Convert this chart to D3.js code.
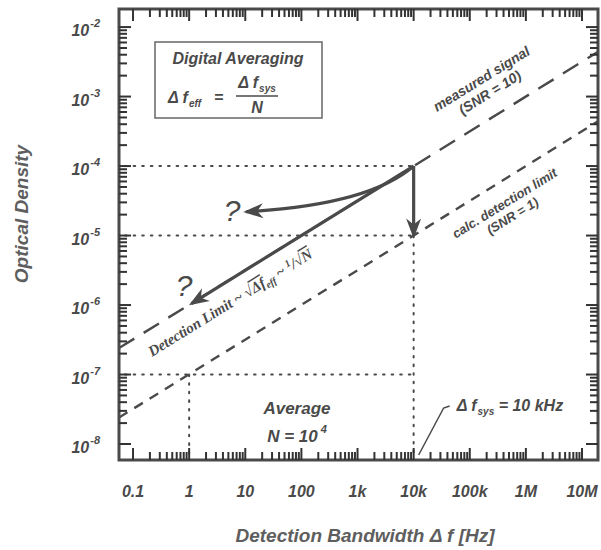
<!DOCTYPE html>
<html>
<head>
<meta charset="utf-8">
<script src="https://cdn.jsdelivr.net/npm/d3@7"></script>
<style>
  body { margin: 0; background: #fff; }
  text { font-family: "Liberation Sans", Arial, sans-serif; font-weight: bold; font-style: italic; fill: #4a4a4a; }
</style>
</head>
<body>
<script>
// decades shown on the axes
var xDecades = [-1, 0, 1, 2, 3, 4, 5, 6, 7];
var xTickLabels = ["0.1", "1", "10", "100", "1k", "10k", "100k", "1M", "10M"];
var yDecades = [-2, -3, -4, -5, -6, -7, -8];

// lines: [bandwidth Hz, optical density]
var measuredSignal = [[0.0562, 2.4e-7], [1e4, 1e-4], [1.93e7, 4.4e-3]];
var detectionLimit = [[0.0562, 2.4e-8], [1e4, 1e-5], [1.93e7, 4.4e-4]];

// dotted guide lines
var dottedH = [[1e-4, 1e4], [1e-5, 1e4], [1e-7, 1e4]];   // [OD, runs to f]
var dottedV = [[1, 1e-7], [1e4, 1e-5]];                   // [f, runs up to OD]

// arrows
var arrowStraight = [[1e4, 1e-4], [1.1, 1.05e-6]];
var arrowDown = [[1e4, 1e-4], [1e4, 1e-5]];
var arrowCurve = [[1e4, 1e-4], [1600, 2.75e-5], [10.4, 2.2e-5]];

var margin = {top: 9, right: 3, bottom: 90, left: 119},
    width = 601 - margin.left - margin.right,
    height = 550 - margin.top - margin.bottom;

var ink = "#4a4a4a";

var x = d3.scaleLog()
    .domain([Math.pow(10, -1.25), Math.pow(10, 7.285)])
    .range([0, width]);
var y = d3.scaleLog()
    .domain([Math.pow(10, -8.23), Math.pow(10, -1.74)])
    .range([height, 0]);

var svg = d3.select("body").append("svg")
    .attr("width", 601)
    .attr("height", 550);

var defs = svg.append("defs");
defs.append("clipPath").attr("id", "clip")
  .append("rect").attr("width", width).attr("height", height);
defs.append("marker")
    .attr("id", "head")
    .attr("viewBox", "-22 -9 26 18")
    .attr("refX", -3).attr("refY", 0)
    .attr("markerWidth", 26).attr("markerHeight", 18)
    .attr("markerUnits", "userSpaceOnUse")
    .attr("orient", "auto")
  .append("path")
    .attr("d", "M0,0 L-20,-7.5 L-14,0 L-20,7.5 Z")
    .attr("fill", ink);

var g = svg.append("g")
    .attr("transform", "translate(" + margin.left + "," + margin.top + ")");
var plot = g.append("g").attr("clip-path", "url(#clip)");

// tick values
var xMajor = xDecades.map(function(d) { return Math.pow(10, d); });
var yMajor = yDecades.map(function(d) { return Math.pow(10, d); });
var xMinor = [], yMinor = [];
xDecades.forEach(function(d) {
  for (var k = 2; k <= 9; k++) {
    if (k * Math.pow(10, d) < 1.9e7) xMinor.push(k * Math.pow(10, d));
  }
});
yDecades.forEach(function(d) {
  for (var k = 2; k <= 9; k++) {
    if (k * Math.pow(10, d) < 1.8e-2) yMinor.push(k * Math.pow(10, d));
  }
});

// x tick labels
g.selectAll(".xlab")
  .data(xMajor)
  .enter().append("text")
    .attr("class", "xlab")
    .attr("x", function(d) { return x(d); })
    .attr("y", height + 37)
    .attr("text-anchor", "middle")
    .attr("font-size", "16px")
    .text(function(d, i) { return xTickLabels[i]; });

// y tick labels 10^n
var ylab = g.selectAll(".ylab")
  .data(yDecades)
  .enter().append("text")
    .attr("class", "ylab")
    .attr("x", -19)
    .attr("y", function(d) { return y(Math.pow(10, d)) + 9; })
    .attr("text-anchor", "end")
    .attr("font-size", "16px");
ylab.append("tspan").text("10");
ylab.append("tspan").attr("font-size", "11px").attr("dy", -9).attr("dx", 1)
    .text(function(d) { return String(d); });

// dotted guide lines
plot.selectAll(".dh")
  .data(dottedH)
  .enter().append("line")
    .attr("x1", 6).attr("x2", function(d) { return x(d[1]); })
    .attr("y1", function(d) { return y(d[0]); })
    .attr("y2", function(d) { return y(d[0]); })
    .attr("stroke", ink).attr("stroke-width", 2)
    .attr("stroke-dasharray", "1.6,7").attr("stroke-linecap", "round");
plot.selectAll(".dv")
  .data(dottedV)
  .enter().append("line")
    .attr("x1", function(d) { return x(d[0]); })
    .attr("x2", function(d) { return x(d[0]); })
    .attr("y1", function(d) { return y(d[1]); })
    .attr("y2", height - 4)
    .attr("stroke", ink).attr("stroke-width", 2)
    .attr("stroke-dasharray", "1.6,7").attr("stroke-linecap", "round");

// dashed lines
var line = d3.line()
    .x(function(d) { return x(d[0]); })
    .y(function(d) { return y(d[1]); });

plot.append("path")
    .attr("d", line(measuredSignal))
    .attr("fill", "none").attr("stroke", ink).attr("stroke-width", 2.4)
    .attr("stroke-dasharray", "18,11");
plot.append("path")
    .attr("d", line(detectionLimit))
    .attr("fill", "none").attr("stroke", ink).attr("stroke-width", 2.4)
    .attr("stroke-dasharray", "10,8");

// arrows
plot.append("path")
    .attr("d", line(arrowStraight))
    .attr("fill", "none").attr("stroke", ink).attr("stroke-width", 3.2)
    .attr("marker-end", "url(#head)");
plot.append("path")
    .attr("d", line(arrowDown))
    .attr("fill", "none").attr("stroke", ink).attr("stroke-width", 3.2)
    .attr("marker-end", "url(#head)");
var cp = d3.path();
cp.moveTo(x(arrowCurve[0][0]), y(arrowCurve[0][1]));
cp.quadraticCurveTo(x(arrowCurve[1][0]), y(arrowCurve[1][1]), x(arrowCurve[2][0]), y(arrowCurve[2][1]));
plot.append("path")
    .attr("d", cp.toString())
    .attr("fill", "none").attr("stroke", ink).attr("stroke-width", 3.2)
    .attr("marker-end", "url(#head)");

// ---- annotations (page coordinates)
// box
svg.append("rect")
    .attr("x", 155).attr("y", 42).attr("width", 167).attr("height", 76)
    .attr("fill", "#fff").attr("stroke", "#666").attr("stroke-width", 1.5);
svg.append("text")
    .attr("x", 238).attr("y", 64).attr("text-anchor", "middle")
    .attr("font-size", "16px").text("Digital Averaging");
var f1 = svg.append("text").attr("x", 168).attr("y", 103).attr("font-size", "16px");
f1.append("tspan").text("\u0394 f");
f1.append("tspan").attr("font-size", "10px").attr("dy", 4).attr("dx", 1).text("eff");
svg.append("text").attr("x", 214).attr("y", 103).attr("font-size", "16px").text("=");
var f2 = svg.append("text").attr("x", 257).attr("y", 88).attr("text-anchor", "middle").attr("font-size", "16px");
f2.append("tspan").text("\u0394 f");
f2.append("tspan").attr("font-size", "10px").attr("dy", 4).attr("dx", 1).text("sys");
svg.append("line").attr("x1", 236).attr("x2", 278).attr("y1", 96).attr("y2", 96)
    .attr("stroke", ink).attr("stroke-width", 1.6);
svg.append("text").attr("x", 257).attr("y", 113).attr("text-anchor", "middle")
    .attr("font-size", "16px").text("N");

// line labels
var ang = -Math.atan((y(1e-5) - y(1e-4)) / 2 / (x(1e4) - x(1e3))) * 180 / Math.PI;
var ms = svg.append("g").attr("transform", "translate(484,83) rotate(" + ang + ")");
ms.append("text").attr("text-anchor", "middle").attr("font-size", "14px").text("measured signal");
ms.append("text").attr("y", 16).attr("text-anchor", "middle").attr("font-size", "14px").text("(SNR = 10)");
var cd = svg.append("g").attr("transform", "translate(507,207) rotate(" + ang + ")");
cd.append("text").attr("text-anchor", "middle").attr("font-size", "13px").text("calc. detection limit");
cd.append("text").attr("y", 15).attr("text-anchor", "middle").attr("font-size", "13px").text("(SNR = 1)");

var dl = svg.append("text")
    .attr("transform", "translate(152,357) rotate(" + ang + ")")
    .attr("font-size", "15px")
    .style("font-family", "'Liberation Serif', 'DejaVu Serif', serif");
dl.append("tspan").text("Detection Limit ~ \u221A");
dl.append("tspan").style("text-decoration", "overline").text("\u0394f");
dl.append("tspan").attr("font-size", "10px").attr("dy", 3).text("eff");
dl.append("tspan").attr("dy", -3).text(" ~ ");
dl.append("tspan").attr("font-size", "10px").attr("dy", -5).text("1");
dl.append("tspan").attr("dy", 5).text("/\u221A");
dl.append("tspan").style("text-decoration", "overline").text("N");

// question marks
svg.append("text").attr("x", 232).attr("y", 221).attr("text-anchor", "middle")
    .attr("font-size", "30px").style("font-weight", "normal").text("?");
svg.append("text").attr("x", 184).attr("y", 296).attr("text-anchor", "middle")
    .attr("font-size", "30px").style("font-weight", "normal").text("?");

// Average N = 10^4
svg.append("text").attr("x", 297).attr("y", 414).attr("text-anchor", "middle")
    .attr("font-size", "17px").text("Average");
var nt = svg.append("text").attr("x", 297).attr("y", 442).attr("text-anchor", "middle").attr("font-size", "17px");
nt.append("tspan").text("N = 10");
nt.append("tspan").attr("font-size", "11px").attr("dy", -9).attr("dx", 3).text("4");

// delta f sys label with leader
var lx = margin.left + x(1e4), ly = margin.top + height;
svg.append("path")
    .attr("d", "M" + (lx + 5) + "," + (ly - 5) + " L" + (lx + 30) + "," + (ly - 52) + " L" + (lx + 36) + "," + (ly - 54))
    .attr("fill", "none").attr("stroke", ink).attr("stroke-width", 1.5);
var fs = svg.append("text").attr("x", lx + 43).attr("y", ly - 49).attr("font-size", "16px");
fs.append("tspan").text("\u0394 f");
fs.append("tspan").attr("font-size", "10px").attr("dy", 4).attr("dx", 1).text("sys");
fs.append("tspan").attr("dy", -4).text(" = 10 kHz");

// axis titles
svg.append("text")
    .attr("transform", "translate(28,214) rotate(-90)")
    .attr("text-anchor", "middle").attr("font-size", "19px")
    .style("fill", "#5e5e5e")
    .text("Optical Density");
svg.append("text")
    .attr("x", 365).attr("y", 542).attr("text-anchor", "middle")
    .attr("font-size", "19px")
    .style("fill", "#5e5e5e")
    .text("Detection Bandwidth \u0394 f [Hz]");

// frame and inward ticks, drawn last on top, in page coordinates
var ox = margin.left, oy = margin.top;
svg.append("rect")
    .attr("x", ox).attr("y", oy)
    .attr("width", width).attr("height", height)
    .attr("fill", "none").attr("stroke", ink).attr("stroke-width", 3);

var tickLayer = svg.append("g");
function tick(x1, y1, x2, y2) {
  tickLayer.append("line")
      .attr("x1", x1).attr("y1", y1).attr("x2", x2).attr("y2", y2)
      .attr("stroke", "#333").attr("stroke-width", 2);
}
[[xMajor, 12], [xMinor, 8]].forEach(function(set) {
  set[0].forEach(function(v) {
    var px = ox + x(v);
    tick(px, oy + height, px, oy + height - set[1]);
    tick(px, oy, px, oy + set[1]);
  });
});
[[yMajor, 12], [yMinor, 8]].forEach(function(set) {
  set[0].forEach(function(v) {
    var py = oy + y(v);
    tick(ox, py, ox + set[1], py);
    tick(ox + width, py, ox + width - set[1], py);
  });
});
</script>
</body>
</html>
